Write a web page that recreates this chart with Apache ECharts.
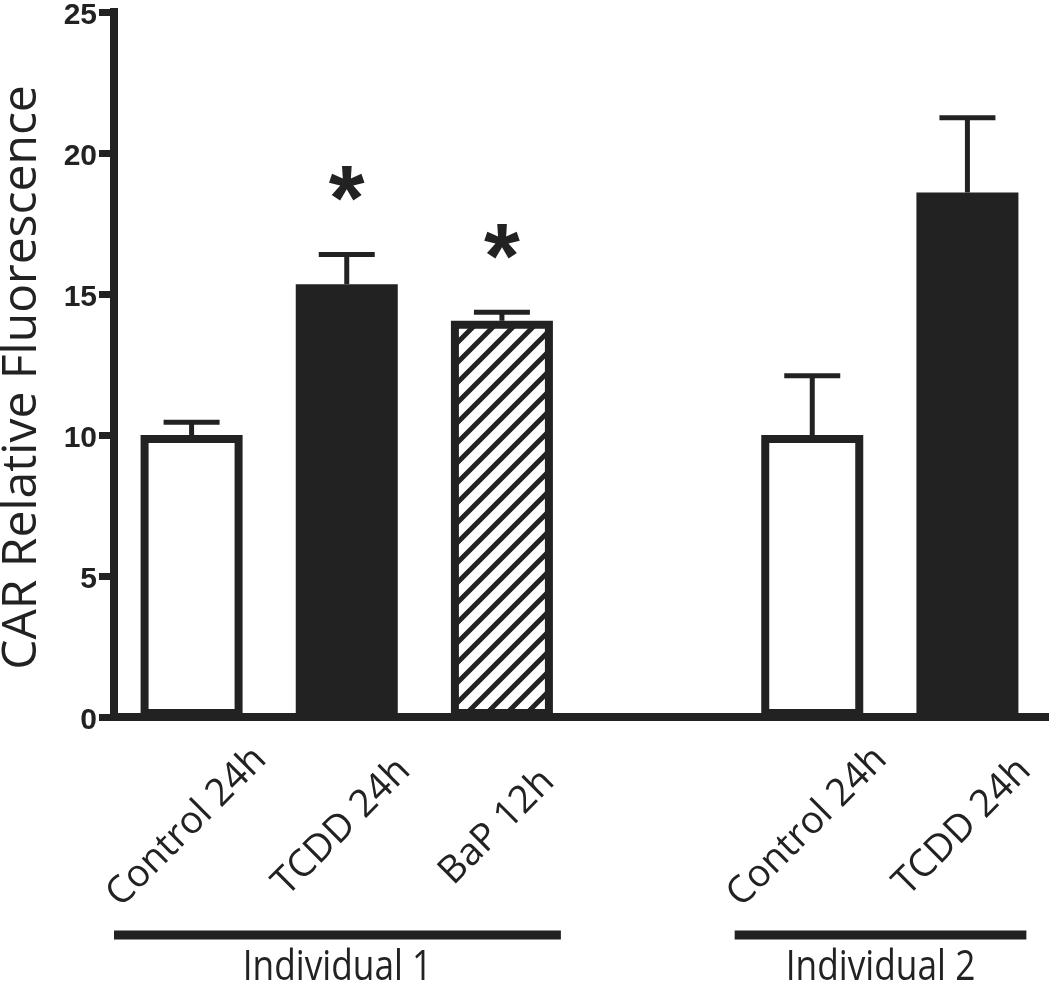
<!DOCTYPE html>
<html><head><meta charset="utf-8">
<script src="https://cdn.jsdelivr.net/npm/echarts@6/dist/echarts.min.js"></script>
<style>html,body{margin:0;padding:0;background:#fff}#chart{width:1050px;height:989px}</style>
</head><body><div id="chart"></div>
<script>
// ---- data ----
const categories = ['Control 24h', 'TCDD 24h', 'BaP 12h', '', 'Control 24h', 'TCDD 24h'];
const means = [10.0, 15.35, 14.05, null, 10.0, 18.6];
const sems = [0.45, 1.05, 0.3, null, 2.1, 2.65];
const significance = ['', '*', '*', '', '', ''];
const groupNames = ['Individual 1', 'Individual 2'];
const groupFirst = [0, 4];
const groupLast = [2, 5];
const yMin = 0, yMax = 25, yStep = 5;
const yTitle = 'CAR Relative Fluorescence';

// ---- styles ----
const INK = '#222';
function hatchCanvas() {
  const c = document.createElement('canvas');
  c.width = 20; c.height = 20;
  const g = c.getContext('2d');
  g.fillStyle = '#fff'; g.fillRect(0, 0, 20, 20);
  g.strokeStyle = INK; g.lineWidth = 5;
  g.beginPath();
  g.moveTo(-5, 25); g.lineTo(25, -5);
  g.moveTo(-10, 10); g.lineTo(10, -10);
  g.moveTo(10, 30); g.lineTo(30, 10);
  g.stroke();
  return c;
}
const hatch = hatchCanvas();
function styleFor(name) {
  if (name.indexOf('Control') === 0) return { color: '#fff', borderColor: INK, borderWidth: 8 };
  if (name.indexOf('TCDD') === 0) return { color: INK, borderColor: INK, borderWidth: 8 };
  return { color: { image: hatch, repeat: 'repeat' }, borderColor: INK, borderWidth: 8 };
}

const barData = means.map((v, i) => v == null ? '-' : { value: v, itemStyle: styleFor(categories[i]) });
const errData = [];
means.forEach((v, i) => { if (v != null) errData.push([i, v, v + sems[i]]); });
const sigData = [];
means.forEach((v, i) => { if (v != null && significance[i]) sigData.push([i, v + sems[i], significance[i]]); });

const chart = echarts.init(document.getElementById('chart'), null, { renderer: 'canvas' });
const option = {
  animation: false,
  backgroundColor: '#fff',
  grid: { left: 114, right: 5, top: 12, bottom: 272, outerBoundsMode: 'none', containLabel: false },
  xAxis: {
    type: 'category', data: categories, boundaryGap: true,
    axisLine: { lineStyle: { color: INK, width: 8, cap: 'square' } },
    axisTick: { alignWithLabel: true, length: 18, interval: (i) => categories[i] !== '', lineStyle: { color: INK, width: 8 } },
    axisLabel: { interval: 0, rotate: 45, align: 'center', verticalAlign: 'middle', margin: 105,
      fontSize: 38, fontFamily: '"Open Sans", sans-serif', color: INK, padding: [0, 14, 14, 0] },
    splitLine: { show: false }
  },
  yAxis: {
    type: 'value', min: yMin, max: yMax, interval: yStep,
    splitLine: { show: false },
    axisLine: { show: true, lineStyle: { color: INK, width: 8, cap: 'square' } },
    axisTick: { show: true, length: 15, lineStyle: { color: INK, width: 7 } },
    axisLabel: { margin: 17, fontSize: 30, fontWeight: 'bold', fontFamily: 'Liberation Sans', color: INK, padding: [8, 0, 0, 0],
      rich: {} },
    name: yTitle, nameLocation: 'middle', nameRotate: 90, nameGap: 68,
    nameTextStyle: { fontSize: 48, fontFamily: '"Open Sans", sans-serif', color: INK, padding: [0, 26, 0, 0] }
  },
  series: [
    { type: 'bar', data: barData, barWidth: 102, z: 2 },
    {
      type: 'custom', data: errData, encode: { x: 0, y: [1, 2] }, z: 3,
      renderItem: function (params, api) {
        const p0 = api.coord([api.value(0), api.value(1)]);
        const p1 = api.coord([api.value(0), api.value(2)]);
        const hw = 28;
        return {
          type: 'group', children: [
            { type: 'line', shape: { x1: p0[0], y1: p0[1], x2: p1[0], y2: p1[1] }, style: { stroke: INK, lineWidth: 5 } },
            { type: 'line', shape: { x1: p1[0] - hw, y1: p1[1], x2: p1[0] + hw, y2: p1[1] }, style: { stroke: INK, lineWidth: 5 } }
          ]
        };
      }
    },
    {
      type: 'custom', data: sigData, encode: { x: 0, y: 1 }, z: 4,
      renderItem: function (params, api) {
        const p = api.coord([api.value(0), api.value(1)]);
        return {
          type: 'text', x: p[0], y: p[1] - 50,
          style: { text: sigData[params.dataIndex][2], font: 'bold 92px "Liberation Sans", Arial, sans-serif', fill: INK, align: 'center', verticalAlign: 'middle' }
        };
      }
    }
  ]
};
chart.setOption(option);

// group brackets below the axis
const cx = (i) => chart.convertToPixel({ xAxisIndex: 0 }, i);
const y0 = chart.convertToPixel({ yAxisIndex: 0 }, 0);
const slot = cx(1) - cx(0);
const elements = [];
groupNames.forEach((name, k) => {
  const xs = cx(groupFirst[k]) - slot * 0.5;
  const xe = cx(groupLast[k]) + slot * 0.38;
  elements.push({ type: 'line', shape: { x1: xs, y1: y0 + 218, x2: xe, y2: y0 + 218 }, style: { stroke: INK, lineWidth: 9 } });
  elements.push({ type: 'text', x: (xs + xe) / 2, y: y0 + 251, scaleX: 0.84, scaleY: 1, originX: 0, originY: 0,
    style: { text: name, font: '42px "Open Sans", sans-serif', fill: INK, align: 'center', verticalAlign: 'middle' } });
});
chart.setOption({ graphic: { elements: elements } });
</script>
</body></html>
